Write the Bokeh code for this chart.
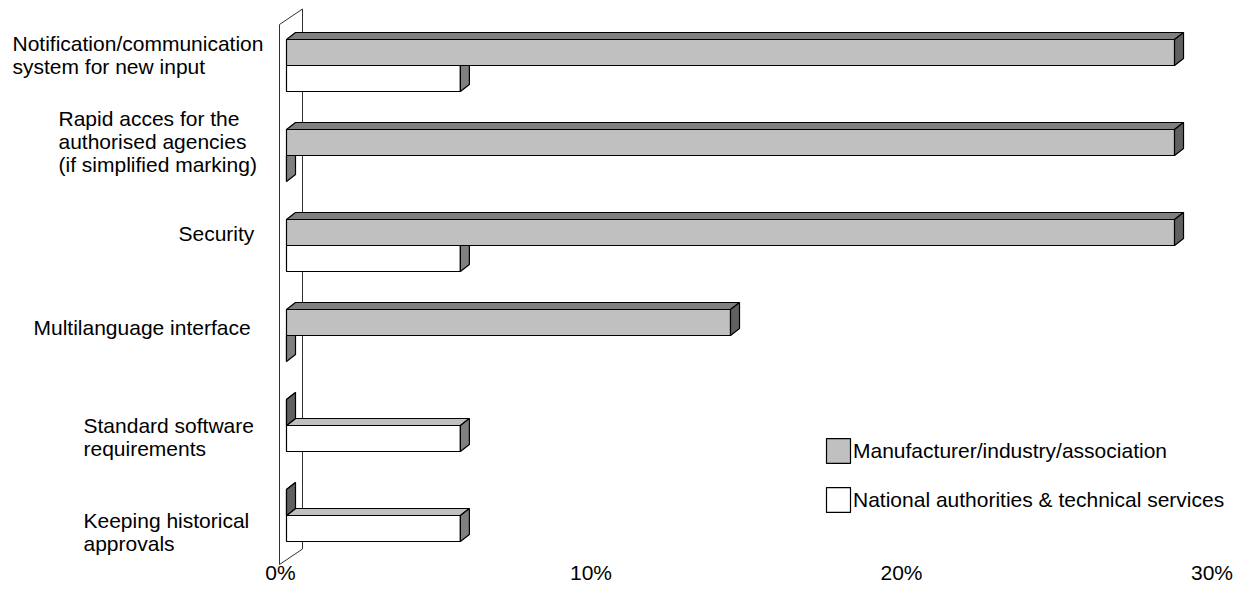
from bokeh.plotting import figure
from bokeh.models import Range1d, Legend, LegendItem, ColumnDataSource
from bokeh.core.properties import value
from bokeh.embed import file_html
from bokeh.resources import INLINE

# ---------------- data ----------------
categories = [
    "Notification/communication\nsystem for new input",
    "Rapid acces for  the\nauthorised agencies\n(if simplified marking)",
    "Security",
    "Multilanguage interface",
    "Standard software\n requirements",
    "Keeping historical\napprovals",
]
manufacturer = [28.6, 28.6, 28.6, 14.3, 0.0, 0.0]   # % Manufacturer/industry/association
national = [5.6, 0.0, 5.6, 0.0, 5.6, 5.6]           # % National authorities & technical services
series_names = ["Manufacturer/industry/association", "National authorities & technical services"]
x_ticks = [0, 10, 20, 30]
x_tick_labels = ["0%", "10%", "20%", "30%"]

# ---------------- layout / style ----------------
W, H = 1234, 585
XS = 31.05      # px per percent
YS = 90.0       # px per category
X0_PX = 280     # px position of 0 %
Y0_PX = 69      # px position of first category centre (wall front plane)
FONT = "Liberation Sans"
FS = "21px"

def dx(px):
    return px / XS

def dy(px):
    return px / YS

x_range = Range1d(-X0_PX / XS, (W - X0_PX) / XS)
y_top = -Y0_PX / YS
y_range = Range1d(y_top + H / YS, y_top)   # inverted: categories go downward

p = figure(width=W, height=H, x_range=x_range, y_range=y_range,
           output_backend="svg", toolbar_location=None,
           min_border=0, min_border_left=0, min_border_right=0,
           min_border_top=0, min_border_bottom=0)
p.xaxis.visible = False
p.yaxis.visible = False
p.grid.visible = False
p.outline_line_color = None
p.background_fill_color = "white"
p.border_fill_color = "white"

n = len(categories)
idx = list(range(n))

# wall (left 3D plane)
WS = dx(-1)
WX, WY = dx(23), dy(-15.5)
p.patch([WS, WS + WX, WS + WX, WS], [-0.5, -0.5 + WY, n - 0.5 + WY, n - 0.5],
        fill_color="white", line_color="#303030", line_width=1)

# 3D bars
FX, FY = dx(6), dy(-4)     # front face shift (bars set back in depth)
BX, BY = dx(9), dy(-7)     # bar depth
BH = dy(26)                # bar thickness

def faces(vals, offset):
    fl, fr, ft, fb = [], [], [], []
    txs, tys, sxs, sys_ = [], [], [], []
    for k, v in zip(idx, vals):
        y0 = k + FY + offset
        y1 = y0 + BH
        x0 = FX
        x1 = FX + v
        fl.append(x0); fr.append(x1); ft.append(y0); fb.append(y1)
        txs.append([x0, x1, x1 + BX, x0 + BX]); tys.append([y0, y0, y0 + BY, y0 + BY])
        sxs.append([x1, x1, x1 + BX, x1 + BX]); sys_.append([y0, y1, y1 + BY, y0 + BY])
    return (dict(left=fl, right=fr, top=ft, bottom=fb),
            dict(xs=txs, ys=tys), dict(xs=sxs, ys=sys_))

styles = {
    "nat": dict(front="#FFFFFF", top="#C0C0C0", side="#808080"),
    "man": dict(front="#C0C0C0", top="#808080", side="#606060"),
}

renderers = {}
for key, vals, off in [("nat", national, 0.0), ("man", manufacturer, -BH)]:
    fr, tp, sd = faces(vals, off)
    st = styles[key]
    r_front = p.quad(source=ColumnDataSource(fr), left="left", right="right", top="top", bottom="bottom",
                     fill_color=st["front"], line_color="black", line_width=1.2)
    p.patches(source=ColumnDataSource(tp), xs="xs", ys="ys",
              fill_color=st["top"], line_color="black", line_width=1.2)
    p.patches(source=ColumnDataSource(sd), xs="xs", ys="ys",
              fill_color=st["side"], line_color="black", line_width=1.2)
    renderers[key] = r_front

# category labels (multi-line blocks, left aligned inside block)
label_left_px = [12, 58, 178, 33, 83, 83]
label_dy_px = [-14.6, -18, -16.5, -11.8, 7.4, 12.5]
p.text(x=[(lx - X0_PX) / XS for lx in label_left_px],
       y=[k + dy(d) for k, d in zip(idx, label_dy_px)],
       text=categories, text_align="left", text_baseline="middle",
       text_font=value(FONT), text_font_size=FS, text_color="black", text_line_height=0.98)

# value-axis tick labels
p.text(x=x_ticks, y=[n - 0.5 + dy(8)] * len(x_ticks), text=x_tick_labels,
       text_align="center", text_baseline="middle",
       text_font=value(FONT), text_font_size=FS, text_color="black")

legend = Legend(items=[LegendItem(label=series_names[0], renderers=[renderers["man"]]),
                       LegendItem(label=series_names[1], renderers=[renderers["nat"]])],
                location=(823, 70), orientation="vertical",
                glyph_width=30, glyph_height=31, label_standoff=-3, spacing=18,
                padding=0, margin=0, border_line_color=None, background_fill_alpha=0,
                label_text_font=FONT, label_text_font_size=FS, label_text_baseline="middle",
                label_text_color="black", label_height=31)
p.add_layout(legend, "center")

open("out.html", "w").write(file_html(p, INLINE))
